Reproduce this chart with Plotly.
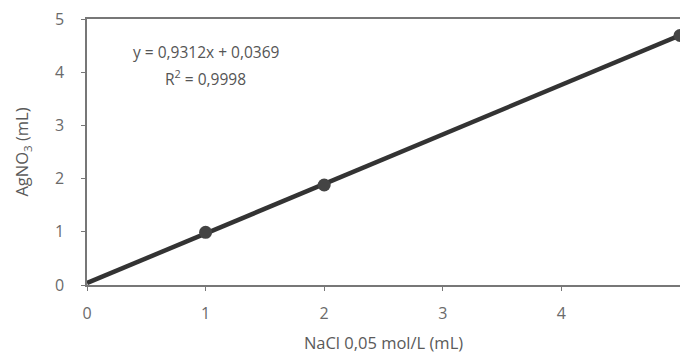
import plotly.graph_objects as go

# Data
nacl_ml = [1, 2, 5]
agno3_ml = [0.99, 1.88, 4.69]
trend_x = [0, 5]
trend_y = [0.0369, 4.6929]
x_ticks = [0, 1, 2, 3, 4, 5]
y_ticks = [0, 1, 2, 3, 4, 5]
equation_text = "y = 0,9312x + 0,0369"
r2_text = "R<sup>2</sup> = 0,9998"

FONT = "Open Sans"
GRAY = "#5a5a5a"

fig = go.Figure()
fig.add_trace(go.Scatter(x=trend_x, y=trend_y, mode="lines",
                         line=dict(color="#333333", width=4.5), showlegend=False))
fig.add_trace(go.Scatter(x=nacl_ml, y=agno3_ml, mode="markers",
                         marker=dict(color="#444444", size=13), showlegend=False))

fig.add_annotation(x=1.0, y=4.38, xref="x", yref="y", text=equation_text,
                   showarrow=False, font=dict(family=FONT, size=15.5, color="#555555"))
fig.add_annotation(x=1.0, y=3.9, xref="x", yref="y", text=r2_text,
                   showarrow=False, font=dict(family=FONT, size=15.5, color="#555555"))

axis_common = dict(showgrid=False, zeroline=False, showline=True, linecolor="#777777",
                   linewidth=1.5, mirror=True, ticks="outside", ticklen=4, automargin=False,
                   tickcolor="#777777", tickfont=dict(family=FONT, size=16, color="#6a6a6a"))

fig.update_xaxes(range=[0, 5], tickvals=x_ticks,
                 title=dict(text="NaCl 0,05 mol/L (mL)", font=dict(family=FONT, size=16.5, color=GRAY), standoff=14),
                 ticklabelstandoff=9, **axis_common)
fig.update_yaxes(range=[0, 5], tickvals=y_ticks,
                 title=dict(text="AgNO<sub>3</sub> (mL)", font=dict(family=FONT, size=16.5, color=GRAY), standoff=22),
                 ticklabelstandoff=14, **axis_common)

fig.update_layout(width=680, height=356, margin=dict(l=87, r=0, t=19, b=71),
                  plot_bgcolor="white", paper_bgcolor="white")

fig.write_html("out.html", config={"displayModeBar": False},
               post_script="document.body.style.margin='0px';document.body.style.overflow='hidden';")
